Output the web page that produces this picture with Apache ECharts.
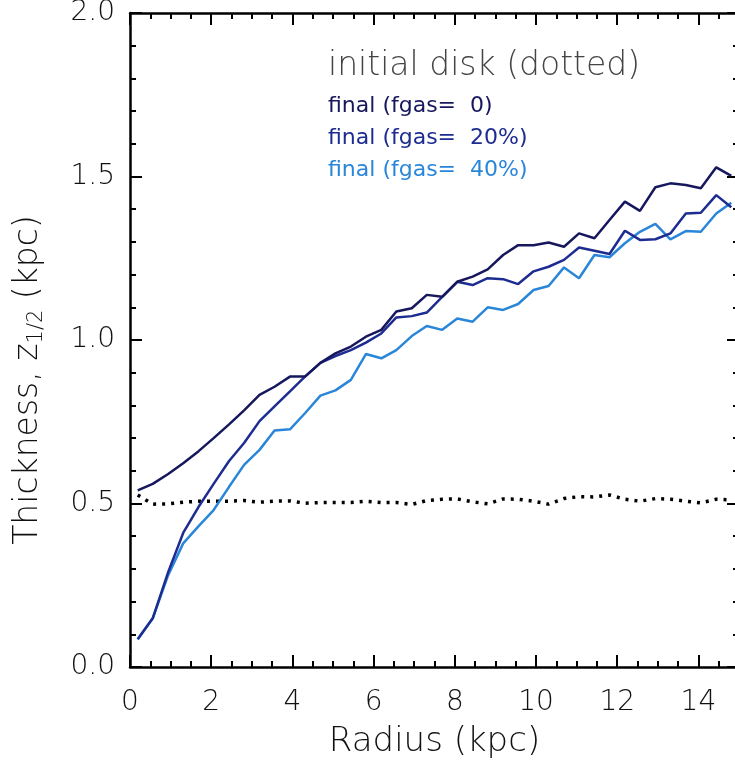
<!DOCTYPE html>
<html>
<head>
<meta charset="utf-8">
<script src="https://cdn.jsdelivr.net/npm/echarts@6/dist/echarts.min.js"></script>
<style>
  html, body { margin: 0; padding: 0; background: #fff; }
  #main { width: 735px; height: 760px; }
</style>
</head>
<body>
<div id="main"></div>
<script>
// radius bin centres (kpc)
var radius = [0.19, 0.56, 0.94, 1.31, 1.69, 2.06, 2.44, 2.81, 3.19, 3.56,
  3.94, 4.31, 4.69, 5.06, 5.44, 5.81, 6.19, 6.56, 6.94, 7.31,
  7.69, 8.06, 8.44, 8.81, 9.19, 9.56, 9.94, 10.31, 10.69, 11.06,
  11.44, 11.81, 12.19, 12.56, 12.94, 13.31, 13.69, 14.06, 14.44, 14.81];

// initial disk (dotted)
var initialDisk = [0.526, 0.498, 0.499, 0.504, 0.507, 0.507, 0.507, 0.509, 0.504, 0.507,
  0.508, 0.501, 0.503, 0.503, 0.503, 0.507, 0.503, 0.503, 0.497, 0.509,
  0.513, 0.514, 0.505, 0.499, 0.514, 0.513, 0.507, 0.498, 0.515, 0.521,
  0.520, 0.526, 0.513, 0.507, 0.515, 0.513, 0.507, 0.502, 0.513, 0.511];

// final, fgas = 0
var fgas0 = [0.54, 0.56, 0.59, 0.623, 0.66, 0.70, 0.742, 0.785, 0.832, 0.857,
  0.888, 0.888, 0.93, 0.959, 0.98, 1.01, 1.031, 1.087, 1.097, 1.138,
  1.132, 1.178, 1.194, 1.216, 1.26, 1.29, 1.29, 1.298, 1.285, 1.326,
  1.311, 1.367, 1.423, 1.395, 1.467, 1.479, 1.474, 1.464, 1.528, 1.502];

// final, fgas = 20%
var fgas20 = [0.085, 0.149, 0.29, 0.41, 0.49, 0.56, 0.63, 0.685, 0.752, 0.797,
  0.843, 0.888, 0.93, 0.951, 0.969, 0.992, 1.02, 1.069, 1.073, 1.084,
  1.132, 1.178, 1.168, 1.189, 1.186, 1.171, 1.21, 1.224, 1.245, 1.283,
  1.273, 1.263, 1.334, 1.306, 1.308, 1.326, 1.387, 1.389, 1.443, 1.406];

// final, fgas = 40%
var fgas40 = [0.085, 0.149, 0.281, 0.378, 0.431, 0.48, 0.551, 0.618, 0.664, 0.723,
  0.727, 0.776, 0.83, 0.846, 0.878, 0.957, 0.944, 0.969, 1.012, 1.043,
  1.031, 1.066, 1.056, 1.10, 1.092, 1.11, 1.153, 1.165, 1.222, 1.189,
  1.26, 1.253, 1.296, 1.331, 1.355, 1.308, 1.333, 1.331, 1.387, 1.42];

var font = "'DejaVu Sans', sans-serif";
var colors = ["#16175c", "#1d2c90", "#2a86d8"];

function pairs(ys) {
  return radius.map(function (x, i) { return [x, ys[i]]; });
}

var axisLine = { onZero: false, lineStyle: { color: "#000", width: 2.5 } };
var axisTick = { inside: true, length: 12, lineStyle: { color: "#000", width: 2 } };
var minorY = { show: true, splitNumber: 5, length: 6, lineStyle: { color: "#000", width: 2 } };
var minorX = { show: true, splitNumber: 4, length: 6, lineStyle: { color: "#000", width: 2 } };

var chart = echarts.init(document.getElementById("main"));

var option = {
  backgroundColor: "#fff",
  animation: false,
  grid: { left: 130, right: -4, top: 13, bottom: 93, outerBoundsMode: "none", containLabel: false },
  xAxis: [
    {
      type: "value", min: 0, max: 15, interval: 2, position: "bottom",
      name: "Radius (kpc)", nameLocation: "middle", nameGap: 58,
      nameTextStyle: { fontFamily: font, fontWeight: 200, fontSize: 34, color: "#111" },
      axisLine: axisLine, axisTick: axisTick, minorTick: minorX,
      splitLine: { show: false },
      axisLabel: { fontFamily: font, fontWeight: 200, fontSize: 28, color: "#111", margin: 22, showMaxLabel: false }
    },
    {
      type: "value", min: 0, max: 15, interval: 2, position: "top",
      axisLine: axisLine, axisTick: axisTick, minorTick: minorX,
      splitLine: { show: false }, axisLabel: { show: false }
    }
  ],
  yAxis: [
    {
      type: "value", min: 0, max: 2, interval: 0.5, position: "left",
      name: "Thickness, z{sub|1/2} (kpc)", nameLocation: "middle", nameGap: 83,
      nameTextStyle: {
        fontFamily: font, fontWeight: 200, fontSize: 33, color: "#111",
        padding: [0, 80, 0, 0],
        rich: { sub: { fontFamily: font, fontWeight: 200, fontSize: 21, color: "#111", padding: [16, 0, 0, 0] } }
      },
      axisLine: axisLine, axisTick: axisTick, minorTick: minorY,
      splitLine: { show: false },
      axisLabel: {
        fontFamily: font, fontWeight: 200, fontSize: 28, color: "#111", margin: 15,
        formatter: function (v) { return v.toFixed(1); }
      }
    },
    {
      type: "value", min: 0, max: 2, interval: 0.5, position: "right",
      axisLine: axisLine, axisTick: axisTick, minorTick: minorY,
      splitLine: { show: false }, axisLabel: { show: false }
    }
  ],
  graphic: [
    { type: "text", left: 328, top: 50, style: { text: "initial disk (dotted)", font: "200 33px 'DejaVu Sans'", fill: "#444" } },
    { type: "text", left: 328, top: 95, style: { text: "final (fgas=  0)", font: "22px 'DejaVu Sans'", fill: colors[0] } },
    { type: "text", left: 328, top: 127, style: { text: "final (fgas=  20%)", font: "22px 'DejaVu Sans'", fill: colors[1] } },
    { type: "text", left: 328, top: 159, style: { text: "final (fgas=  40%)", font: "22px 'DejaVu Sans'", fill: colors[2] } }
  ],
  series: [
    {
      name: "initial disk", type: "line", data: pairs(initialDisk), showSymbol: false,
      lineStyle: { color: "#000", width: 3.5, type: [3, 6] }
    },
    {
      name: "final (fgas= 40%)", type: "line", data: pairs(fgas40), showSymbol: false,
      lineStyle: { color: colors[2], width: 2.5 }
    },
    {
      name: "final (fgas= 20%)", type: "line", data: pairs(fgas20), showSymbol: false,
      lineStyle: { color: colors[1], width: 2.5 }
    },
    {
      name: "final (fgas= 0)", type: "line", data: pairs(fgas0), showSymbol: false,
      lineStyle: { color: colors[0], width: 2.5 }
    }
  ]
};

chart.setOption(option);
</script>
</body>
</html>
